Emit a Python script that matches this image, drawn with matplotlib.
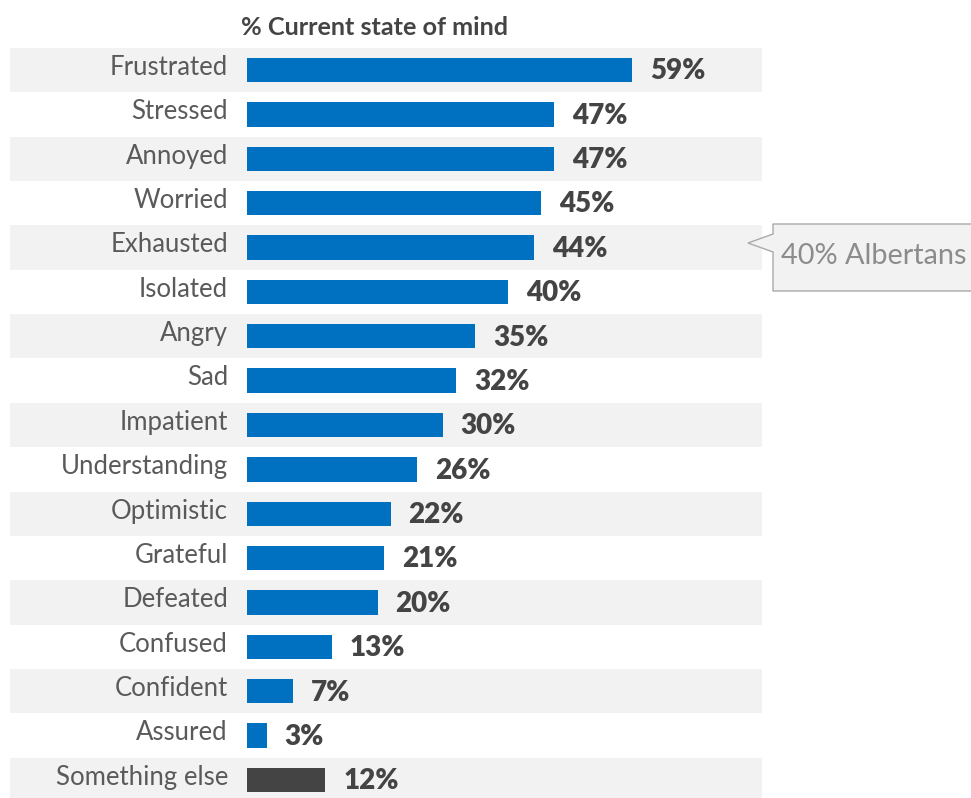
import matplotlib.pyplot as plt
from matplotlib.patches import Polygon

# survey results: current state of mind
states = ["Frustrated", "Stressed", "Annoyed", "Worried", "Exhausted", "Isolated",
          "Angry", "Sad", "Impatient", "Understanding", "Optimistic", "Grateful",
          "Defeated", "Confused", "Confident", "Assured", "Something else"]
pct = [59, 47, 47, 45, 44, 40, 35, 32, 30, 26, 22, 21, 20, 13, 7, 3, 12]
callout_text = "40% Albertans"
title = "% Current state of mind"

W, H = 971, 798
BLUE = "#0070c0"
DARK = "#444444"
BAND = "#f2f2f2"

fam = ["Lato", "DejaVu Sans"]

fig = plt.figure(figsize=(W / 100, H / 100), dpi=100)
ax = fig.add_axes([0, 0, 1, 1])

# 1% = 6.525 px, bars start at x=247px; rows 44.375 px apart, first centre at 70px
ppx = 6.525
x0 = 247
ax.set_xlim(-x0 / ppx, (W - x0) / ppx)
ax.set_ylim((H - 70) / 44.375, -70 / 44.375)
ax.axis("off")

n = len(states)
for i in range(0, n, 2):
    ax.axhspan(i - 0.5, i + 0.5, xmin=10 / W, xmax=762 / W, color=BAND, lw=0, zorder=0)

colors = [BLUE] * (n - 1) + [DARK]
ax.barh(range(n), pct, height=0.55, color=colors, zorder=2)

for i, (s, v) in enumerate(zip(states, pct)):
    ax.text(-19 / ppx, i - 0.06, s, ha="right", va="center", fontsize=18.5,
            family=fam, fontweight="normal", color="#5a5a5a")
    ax.text(v + 18 / ppx, i + 0.03, f"{v}%", ha="left", va="center", fontsize=20,
            family=fam, fontweight="heavy", color=DARK)

ax.text(-6 / ppx, -0.95, title, ha="left", va="center", fontsize=18.2,
        family=fam, fontweight="bold", color=DARK)


def px(x, y):
    return (x / W, 1 - y / H)


box = [px(773, 224), px(990, 224), px(990, 291), px(773, 291),
       px(773, 252), px(748, 243), px(773, 234)]
fig.patches.append(Polygon(box, closed=True, transform=fig.transFigure,
                           facecolor=BAND, edgecolor="#aaaaaa", lw=1, zorder=3))
fig.text(*px(781, 256), callout_text, ha="left", va="center", fontsize=20.8,
         family=fam, fontweight="normal", color="#8c8c8c")

fig.savefig("out.png", dpi=100)
